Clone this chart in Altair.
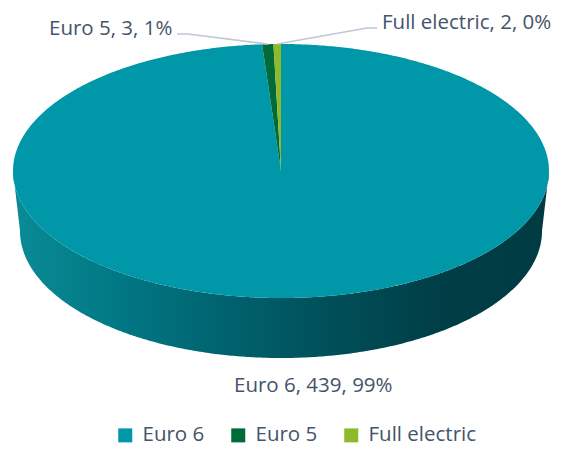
import math
import altair as alt
import numpy as np
import pandas as pd

# ---------------- data ----------------
categories = ["Euro 6", "Euro 5", "Full electric"]
values = [439, 3, 2]
colors = ["#0098A8", "#006A38", "#8DB92A"]

# ---------------- layout (page pixels) ----------------
W, H = 545, 441
CX, CY, RX, RY = 281, 171, 268, 127          # top face ellipse
BCY, BRX, BRY = 231, 261, 127                # bottom rim ellipse
FONT = "Open Sans"
FONT_SIZE = 20.5
TEXT_COLOR = "#44546A"
LEADER_COLOR = "#BFC8D6"

label_layout = {
    "Euro 6": {"x": 234, "y": 392, "leader": []},
    "Euro 5": {"x": 49, "y": 35, "leader": [(177, 34), (188, 34)]},
    "Full electric": {"x": 382, "y": 29, "leader": [(377, 28), (367, 28)]},
}


def top_pt(a):
    r = math.radians(a)
    return CX + RX * math.sin(r), CY - RY * math.cos(r)


def bot_pt(a):
    r = math.radians(a)
    return CX + BRX * math.sin(r), BCY - BRY * math.cos(r)


def arc(a0, a1, step=0.5):
    n = max(4, int(math.ceil(abs(a1 - a0) / step)))
    return list(np.linspace(a0, a1, n + 1))


total = sum(values)
starts, ends = [], []
acc = 0.0
for v in values:
    starts.append(acc / total * 360)
    acc += v
    ends.append(acc / total * 360)

top_rows, side_rows, leader_rows, label_rows = [], [], [], []
for k, (cat, v) in enumerate(zip(categories, values)):
    s, e = starts[k], ends[k]
    # top face wedge
    pts = [(CX, CY)] + [top_pt(a) for a in arc(s, e)] + [(CX, CY)]
    for i, (x, y) in enumerate(pts):
        top_rows.append({"cat": cat, "i": i, "x": x, "y": y})
    # visible front side
    fs, fe = max(s, 90), min(e, 270)
    if fs < fe:
        pts = [top_pt(a) for a in arc(fs, fe)] + [bot_pt(a) for a in arc(fe, fs)]
        pts.append(pts[0])
        for i, (x, y) in enumerate(pts):
            side_rows.append({"cat": cat, "i": i, "x": x, "y": y})
    # labels
    pct = round(v / total * 100)
    lay = label_layout[cat]
    label_rows.append({"cat": cat, "x": lay["x"], "y": lay["y"],
                       "text": f"{cat}, {v}, {pct}%"})
    if lay["leader"]:
        mid = top_pt((s + e) / 2)
        lpts = lay["leader"] + [mid]
        for i, (x, y) in enumerate(lpts):
            leader_rows.append({"cat": cat, "i": i, "x": x, "y": y})

top_df = pd.DataFrame(top_rows)
side_df = pd.DataFrame(side_rows)
leader_df = pd.DataFrame(leader_rows)
label_df = pd.DataFrame(label_rows)

xs = alt.Scale(domain=[8, 8 + W], nice=False, zero=False)
ys = alt.Scale(domain=[8, 8 + H], nice=False, zero=False, reverse=True)
X = alt.X("x:Q", scale=xs, axis=None)
Y = alt.Y("y:Q", scale=ys, axis=None)

side_grad = alt.LinearGradient(
    gradient="linear",
    stops=[
        alt.GradientStop(color="#0A8B95", offset=0.0),
        alt.GradientStop(color="#007884", offset=0.2),
        alt.GradientStop(color="#00626E", offset=0.4),
        alt.GradientStop(color="#004E58", offset=0.6),
        alt.GradientStop(color="#003E46", offset=0.8),
        alt.GradientStop(color="#003B43", offset=1.0),
    ],
    x1=0, x2=1, y1=0, y2=0,
)

side = alt.Chart(side_df).mark_line(
    filled=True, fill=side_grad, strokeWidth=0, interpolate="linear"
).encode(x=X, y=Y, order="i:Q", detail="cat:N")

top = alt.Chart(top_df).mark_line(
    filled=True, strokeWidth=0, interpolate="linear"
).encode(
    x=X, y=Y, order="i:Q",
    color=alt.Color(
        "cat:N",
        scale=alt.Scale(domain=categories, range=colors),
        legend=alt.Legend(
            title=None, orient="none", direction="horizontal",
            legendX=107, legendY=417,
            symbolType="square", symbolSize=196, symbolStrokeWidth=0,
            labelFont=FONT, labelFontSize=FONT_SIZE, labelColor=TEXT_COLOR,
            labelOffset=7, columnPadding=23, padding=0,
        ),
    ),
)

leaders = alt.Chart(leader_df).mark_line(
    color=LEADER_COLOR, strokeWidth=1.6
).encode(x=X, y=Y, order="i:Q", detail="cat:N")

labels = alt.Chart(label_df).mark_text(
    align="left", baseline="alphabetic", font=FONT, fontSize=FONT_SIZE,
    color=TEXT_COLOR
).encode(x=X, y=Y, text="text:N")

chart = (
    alt.layer(side, top, leaders, labels)
    .properties(width=W, height=H, padding=0,
                autosize=alt.AutoSizeParams(type="none"))
    .configure_view(strokeWidth=0)
)

chart.save("out.html", embed_options={"renderer": "svg", "actions": False})
